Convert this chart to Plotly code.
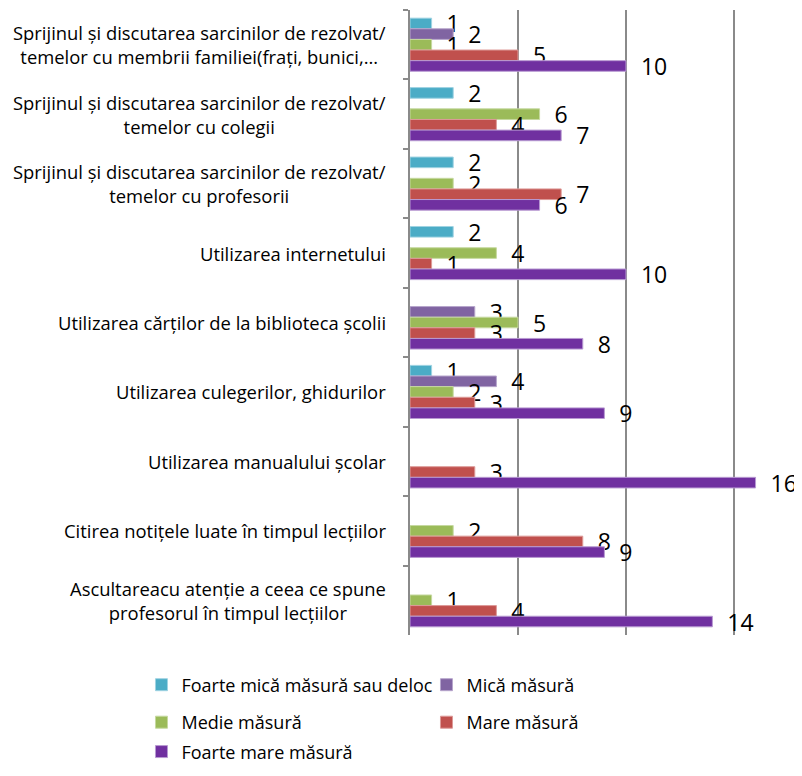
import plotly.graph_objects as go

categories = [
    "Sprijinul și discutarea sarcinilor de rezolvat/<br>temelor cu membrii familiei(frați, bunici,…",
    "Sprijinul și discutarea sarcinilor de rezolvat/<br>temelor cu colegii",
    "Sprijinul și discutarea sarcinilor de rezolvat/<br>temelor cu profesorii",
    "Utilizarea internetului",
    "Utilizarea cărților de la biblioteca școlii",
    "Utilizarea culegerilor, ghidurilor",
    "Utilizarea manualului școlar",
    "Citirea notițele luate în timpul lecțiilor",
    "Ascultareacu atenție a ceea ce spune<br>profesorul în timpul lecțiilor",
]

series_names = [
    "Foarte mică măsură sau deloc",
    "Mică măsură",
    "Medie măsură",
    "Mare măsură",
    "Foarte mare măsură",
]

foarte_mica = [1, 2, 2, 2, None, 1, None, None, None]
mica = [2, None, None, None, 3, 4, None, None, None]
medie = [1, 6, 2, 4, 5, 2, None, 2, 1]
mare = [5, 4, 7, 1, 3, 3, 3, 8, 4]
foarte_mare = [10, 7, 6, 10, 8, 9, 16, 9, 14]

series_values = [foarte_mica, mica, medie, mare, foarte_mare]
colors = ["#4BACC6", "#8064A2", "#9BBB59", "#C0504D", "#7030A0"]
edge_colors = ["#9fd3e2", "#b7a6cc", "#c6d9a0", "#dd9a98", "#b89ad2"]
legend_ids = ["legend", "legend", "legend2", "legend2", "legend3"]

FONT = "Open Sans"

fig = go.Figure()
for name, vals, col, ec, lg in zip(series_names, series_values, colors, edge_colors, legend_ids):
    fig.add_trace(go.Bar(
        y=categories,
        x=vals,
        name=name,
        orientation="h",
        marker=dict(color=col, line=dict(color=ec, width=1)),
        text=[("" if v is None else str(v)) for v in vals],
        texttemplate="\u00a0\u00a0%{text}",
        textposition="outside",
        constraintext="none",
        cliponaxis=False,
        textfont=dict(family=FONT, size=23, color="black"),
        legend=lg,
        hoverinfo="x+name",
    ))

annotations = []
for c in categories:
    annotations.append(dict(
        x=0, xref="paper", y=c, yref="y",
        text=c, showarrow=False, xanchor="right", yanchor="middle",
        xshift=-22, align="center",
        font=dict(family=FONT, size=18.4, color="black"),
    ))

legend_common = dict(
    orientation="h",
    x=-0.685, xanchor="left",
    yanchor="middle",
    entrywidth=240,
    font=dict(family=FONT, size=18, color="black"),
    bgcolor="rgba(0,0,0,0)",
    traceorder="normal",
)

fig.update_layout(
    width=794,
    height=756,
    margin=dict(l=402, r=0, t=2, b=129, autoexpand=False),
    plot_bgcolor="white",
    paper_bgcolor="white",
    barmode="group",
    bargap=0.235,
    bargroupgap=0,
    showlegend=True,
    annotations=annotations,
    legend=dict(legend_common, y=-0.08),
    legend2=dict(legend_common, y=-0.140),
    legend3=dict(legend_common, y=-0.187),
    xaxis=dict(
        range=[0, 18.15],
        dtick=5,
        showgrid=True,
        gridcolor="#8a8a8a",
        gridwidth=2,
        zeroline=False,
        showline=False,
        showticklabels=False,
        ticks="",
    ),
    yaxis=dict(
        type="category",
        categoryorder="array",
        categoryarray=categories,
        autorange="reversed",
        showline=True,
        linecolor="#8a8a8a",
        linewidth=2,
        ticks="outside",
        tickson="boundaries",
        ticklen=5,
        tickwidth=2,
        tickcolor="#8a8a8a",
        showticklabels=False,
        showgrid=False,
        zeroline=False,
    ),
)

fig.write_html("out.html")
